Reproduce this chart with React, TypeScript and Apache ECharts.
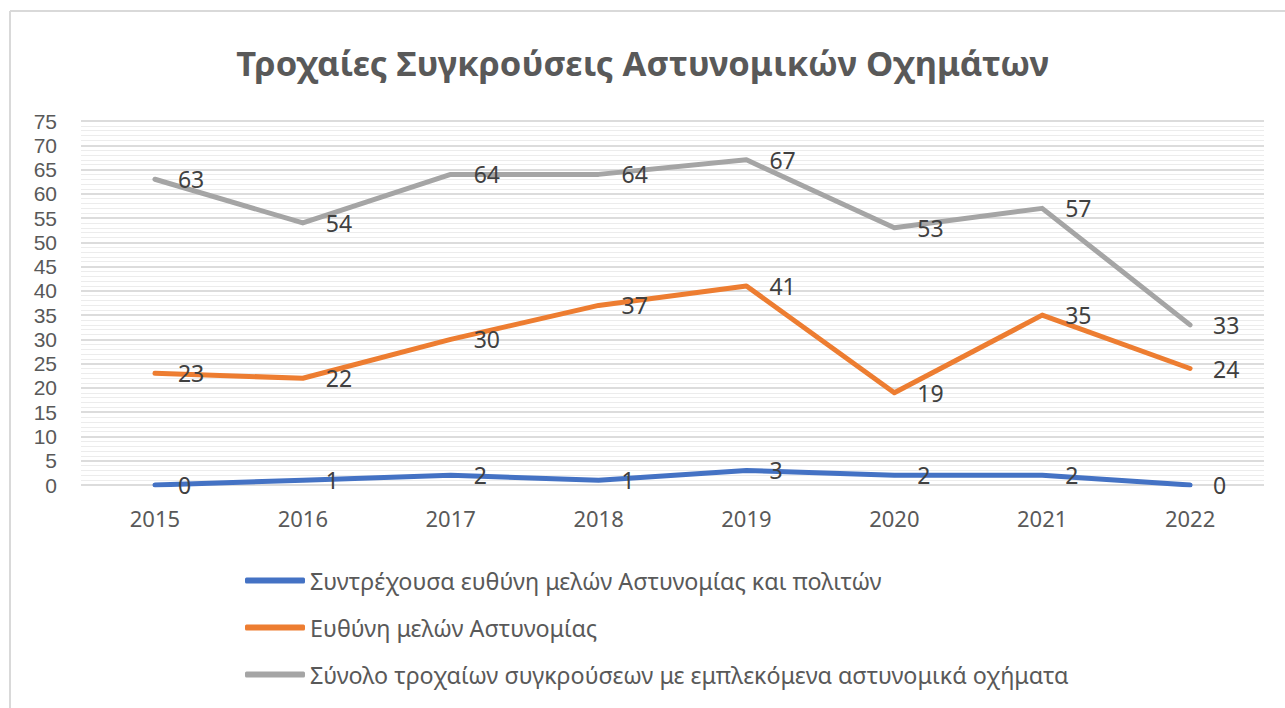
import React, { useEffect, useRef } from "react";
import * as echarts from "echarts";

const title = "Τροχαίες Συγκρούσεις Αστυνομικών Οχημάτων";
const years = ["2015", "2016", "2017", "2018", "2019", "2020", "2021", "2022"];
const seriesNames = [
  "Συντρέχουσα ευθύνη μελών Αστυνομίας και πολιτών",
  "Ευθύνη μελών Αστυνομίας",
  "Σύνολο τροχαίων συγκρούσεων με εμπλεκόμενα αστυνομικά οχήματα",
];
const shared = [0, 1, 2, 1, 3, 2, 2, 0];
const police = [23, 22, 30, 37, 41, 19, 35, 24];
const total = [63, 54, 64, 64, 67, 53, 57, 33];
const colors = ["#4472C4", "#ED7D31", "#A5A5A5"];

const FONT = "'Noto Sans', 'Open Sans', sans-serif";
const TICK_FONT = "'Liberation Sans', Arial, sans-serif";

export default function App() {
  const ref = useRef<HTMLDivElement>(null);
  useEffect(() => {
    const chart = echarts.init(ref.current!, null, { renderer: "svg" });
    const values = [shared, police, total];
    chart.setOption({
      animation: false,
      backgroundColor: "#ffffff",
      title: {
        text: title,
        left: "center",
        top: 40,
        textStyle: { fontFamily: FONT, fontSize: 34.5, fontWeight: "bold", color: "#595959" },
      },
      graphic: [
        { type: "line", shape: { x1: 10, y1: 11, x2: 1285, y2: 11 }, style: { stroke: "#d9d9d9", lineWidth: 2 } },
        { type: "line", shape: { x1: 10, y1: 11, x2: 10, y2: 708 }, style: { stroke: "#d9d9d9", lineWidth: 2 } },
      ],
      grid: { left: 81, right: 21, top: 121, bottom: 223 },
      legend: {
        orient: "vertical",
        left: 240,
        top: 564,
        itemWidth: 60,
        itemHeight: 6,
        itemGap: 24,
        icon: "roundRect",
        data: seriesNames,
        textStyle: { fontFamily: FONT, fontSize: 23.3, color: "#595959" },
      },
      xAxis: {
        type: "category",
        data: years,
        boundaryGap: true,
        axisLine: { show: false },
        axisTick: { show: false },
        axisLabel: { fontFamily: FONT, fontSize: 22, color: "#595959", margin: 22 },
      },
      yAxis: {
        type: "value",
        min: 0,
        max: 75,
        interval: 5,
        axisLine: { show: false },
        axisTick: { show: false },
        axisLabel: { fontFamily: TICK_FONT, fontSize: 21, lineHeight: 21, color: "#595959", margin: 24 },
        splitLine: { lineStyle: { color: "#d0d0d0", width: 1.5 } },
        minorTick: { show: false, splitNumber: 5 },
        minorSplitLine: { show: true, lineStyle: { color: "#ececec", width: 1 } },
      },
      series: seriesNames.map((name, i) => ({
        name,
        type: "line",
        data: values[i],
        symbol: "circle",
        symbolSize: 2,
        showSymbol: true,
        lineStyle: { color: colors[i], width: 5, cap: "round", join: "round" },
        itemStyle: { color: colors[i] },
        label: {
          show: true,
          position: "right",
          distance: 22,
          fontFamily: FONT,
          fontSize: 23,
          color: "#404040",
        },
      })),
    });
    return () => chart.dispose();
  }, []);
  return (
    <div
      ref={ref}
      style={{ position: "fixed", left: 0, top: 0, width: 1285, height: 708 }}
    />
  );
}
